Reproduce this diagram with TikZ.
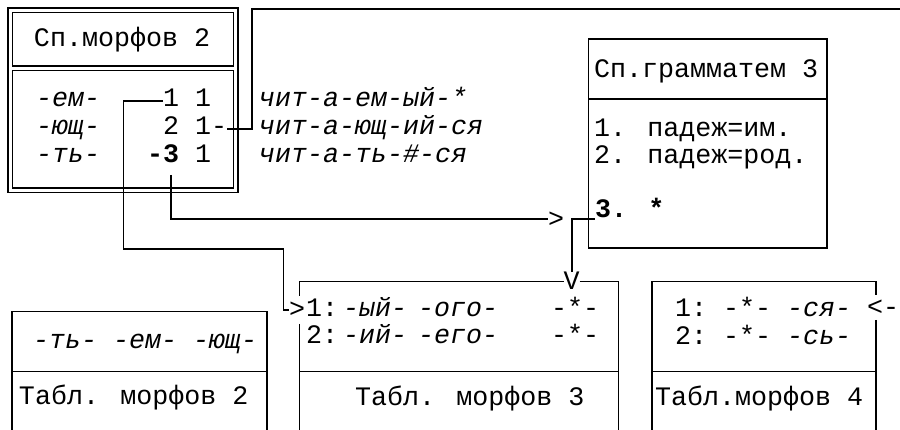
\documentclass[tikz,border=0pt]{standalone}
\usepackage{fontspec}
\newfontfamily\monof{Liberation Mono}
\begin{document}
\begin{tikzpicture}[x=1pt,y=-1pt,
  ln/.style={line width=1.6pt, black},
  dl/.style={line width=1.2pt, black},
  tx/.style={anchor=base west, inner sep=0pt, outer sep=0pt, font=\monof\fontsize{26.67}{30}\selectfont},
  ti/.style={tx, font=\monof\itshape\fontsize{26.67}{30}\selectfont},
  tb/.style={tx, font=\monof\bfseries\fontsize{26.67}{30}\selectfont},
  glyph/.style={anchor=center, inner sep=0pt, outer sep=0pt, font=\monof\fontsize{26.67}{30}\selectfont}]
\useasboundingbox (0,0) rectangle (900,430);

% ---- Sp.morfov 2 (double box)
\draw[dl] (8,8) rectangle (238,192.5);
\draw[dl] (12.7,12.5) rectangle (233.3,66);
\draw[dl] (12.7,70.5) rectangle (233.3,188);
\node[tx] (t1) at (34,47) {Сп.морфов 2};
\node[ti] (m1) at (36,107) {-ем-};
\node[ti] (m2) at (36,135) {-ющ-};
\node[ti] (m3) at (36,162.5) {-ть-};
\node[tx] (n1) at (163,107) {1 1};
\node[tx] (n2) at (163,135) {2 1-};
\node[tb] (n3) at (147,162.5) {-3};
\node[tx] (n3b) at (195,162.5) {1};

\node[ti] (w1) at (259,107) {чит-а-ем-ый-*};
\node[ti] (w2) at (259,135) {чит-а-ющ-ий-ся};
\node[ti] (w3) at (259,163) {чит-а-ть-\#-ся};

% ---- Sp.grammatem 3
\draw[ln] (588.3,39.3) rectangle (826.7,248.3);
\draw[ln] (588.3,99.3) -- (826.7,99.3);
\node[tx] (g0) at (594,78) {Сп.грамматем 3};
\node[tx] (g1) at (594,137) {1. падеж=им.};
\node[tx] (g2) at (594,163.5) {2. падеж=род.};
\node[tb] (g3) at (595,218) {3. *};

% ---- Tabl. morfov 2
\draw[ln] (11.7,430) -- (11.7,311.7) -- (266.7,311.7) -- (266.7,430);
\draw[ln] (11.7,371.7) -- (266.7,371.7);
\node[ti] (c1) at (33,349) {-ть- -ем- -ющ-};
\node[tx] (c2) at (19,405) {Табл. морфов 2};

% ---- Tabl. morfov 3
\node[glyph] (gv) at (571.7,281) {V};
\node[glyph] (gin) at (297,310) {>};
\draw[ln] (299.3,296) -- (299.3,281.7) -- (gv.west |- 0,281.7);
\draw[ln] (gv.east |- 0,281.7) -- (618.3,281.7) -- (618.3,430);
\draw[ln] (299.3,324) -- (299.3,430);
\draw[ln] (299.3,371.7) -- (618.3,371.7);
\node[tx] (a1) at (306,317) {1:};
\node[ti] (a1b) at (343,317) {-ый-};
\node[ti] (a1c) at (418,317) {-ого-};
\node[tx] (a1d) at (551,317) {-*-};
\node[tx] (a2) at (306,344) {2:};
\node[ti] (a2b) at (343,344) {-ий-};
\node[ti] (a2c) at (418,344) {-его-};
\node[tx] (a2d) at (551,344) {-*-};
\node[tx] (a3) at (355,406) {Табл. морфов 3};

% ---- Tabl.morfov 4
\node[tx] (glt) at (867,316) {<-};
\draw[ln] (651.7,430) -- (651.7,281.7) -- (876,281.7) -- (876,295);
\draw[ln] (876,320) -- (876,430);
\draw[ln] (651.7,371.7) -- (876,371.7);
\node[tx] (b1) at (675,317) {1:};
\node[tx] (b1b) at (723,317) {-*-};
\node[ti] (b1c) at (787,317) {-ся-};
\node[tx] (b2) at (675,345) {2:};
\node[tx] (b2b) at (723,345) {-*-};
\node[ti] (b2c) at (787,345) {-сь-};
\node[tx] (b3) at (655,406) {Табл.морфов 4};

% ---- connectors
\coordinate (edge) at (900,9);
\draw[ln] (n2.east |- 0,129) -- (252,129) -- (252,9) -- (edge);
\draw[ln] (n1.west |- 0,101) -- (123.5,101) -- (123.5,249.3) -- (283.3,249.3) -- (283.3,310) -- (gin.west);
\node[glyph] (gto) at (556,219.3) {>};
\draw[ln] (171,175) -- (171,219.3) -- (gto.west);
\draw[ln] (gv.north) -- (571.7,263) -- (571.7,219.3) -- (g3.west |- 0,219.3);
\end{tikzpicture}
\end{document}
